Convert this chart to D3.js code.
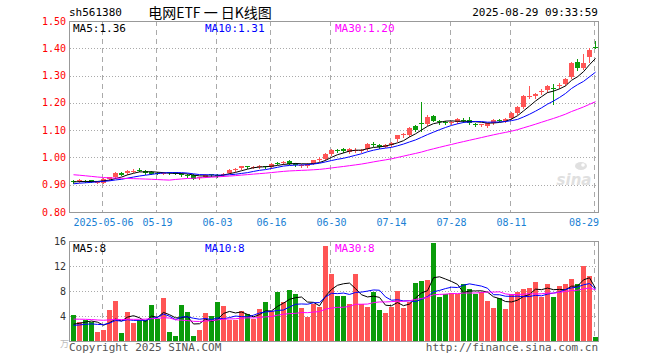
<!DOCTYPE html>
<html><head><meta charset="utf-8">
<script src="https://cdn.jsdelivr.net/npm/d3@7/dist/d3.min.js"></script>
<style>body{margin:0;background:#fff}svg{display:block}</style>
</head><body><svg id="c" width="660" height="360"></svg>
<script>
// ---------- data ----------
const dates = ["04-24","04-25","04-28","04-29","04-30",
"05-06","05-07","05-08","05-09","05-12","05-13","05-14","05-15","05-16","05-19","05-20","05-21","05-22","05-23","05-26","05-27","05-28","05-29","05-30",
"06-03","06-04","06-05","06-06","06-09","06-10","06-11","06-12","06-13","06-16","06-17","06-18","06-19","06-20","06-23","06-24","06-25","06-26","06-27","06-30",
"07-01","07-02","07-03","07-04","07-07","07-08","07-09","07-10","07-11","07-14","07-15","07-16","07-17","07-18","07-21","07-22","07-23","07-24","07-25","07-28","07-29","07-30","07-31",
"08-01","08-04","08-05","08-06","08-07","08-08","08-11","08-12","08-13","08-14","08-15","08-18","08-19","08-20","08-21","08-22","08-25","08-26","08-27","08-28","08-29"];
const openP = [0.913,0.913,0.914,0.916,0.910,0.907,0.921,0.927,0.944,0.943,0.950,0.955,0.952,0.947,0.944,0.941,0.945,0.946,0.939,0.937,0.937,0.925,0.930,0.938,0.937,0.935,0.944,0.955,0.960,0.967,0.963,0.965,0.968,0.965,0.980,0.979,0.987,0.977,0.970,0.968,0.977,0.992,0.993,1.012,1.027,1.030,1.020,1.026,1.026,1.030,1.050,1.045,1.040,1.044,1.068,1.082,1.082,1.116,1.126,1.122,1.151,1.134,1.129,1.127,1.130,1.139,1.136,1.122,1.118,1.114,1.126,1.139,1.132,1.144,1.163,1.186,1.222,1.224,1.238,1.246,1.256,1.262,1.270,1.295,1.348,1.329,1.369,1.405];
const highP = [0.916,0.920,0.917,0.918,0.914,0.924,0.930,0.945,0.947,0.953,0.957,0.961,0.954,0.949,0.946,0.947,0.948,0.948,0.942,0.940,0.938,0.930,0.940,0.941,0.939,0.942,0.958,0.963,0.970,0.970,0.969,0.971,0.970,0.979,0.984,0.988,0.990,0.980,0.975,0.978,0.992,1.000,1.016,1.030,1.032,1.033,1.034,1.033,1.030,1.052,1.055,1.048,1.048,1.056,1.084,1.090,1.112,1.120,1.204,1.156,1.156,1.138,1.132,1.133,1.144,1.144,1.148,1.126,1.124,1.128,1.141,1.142,1.144,1.166,1.188,1.228,1.263,1.236,1.252,1.266,1.268,1.272,1.292,1.350,1.362,1.378,1.400,1.428];
const lowP = [0.908,0.911,0.909,0.910,0.906,0.905,0.918,0.925,0.934,0.941,0.946,0.950,0.940,0.939,0.939,0.939,0.940,0.939,0.933,0.930,0.920,0.920,0.928,0.932,0.930,0.932,0.942,0.952,0.958,0.960,0.961,0.962,0.962,0.963,0.975,0.977,0.975,0.970,0.965,0.966,0.975,0.988,0.990,1.010,1.020,1.020,1.018,1.020,1.020,1.028,1.042,1.036,1.038,1.042,1.062,1.076,1.078,1.098,1.096,1.120,1.132,1.124,1.121,1.124,1.126,1.130,1.123,1.116,1.114,1.111,1.124,1.132,1.130,1.141,1.158,1.181,1.216,1.218,1.234,1.241,1.197,1.255,1.265,1.292,1.322,1.325,1.350,1.400];
const closeP = [0.910,0.916,0.912,0.911,0.911,0.922,0.928,0.942,0.937,0.951,0.951,0.954,0.942,0.941,0.941,0.943,0.943,0.940,0.937,0.935,0.922,0.928,0.937,0.936,0.935,0.940,0.955,0.959,0.967,0.964,0.966,0.968,0.964,0.977,0.978,0.985,0.977,0.973,0.971,0.976,0.990,0.996,1.013,1.027,1.024,1.022,1.031,1.028,1.028,1.050,1.046,1.040,1.045,1.054,1.082,1.086,1.108,1.102,1.124,1.150,1.135,1.130,1.126,1.129,1.142,1.136,1.126,1.120,1.121,1.126,1.138,1.136,1.141,1.163,1.186,1.226,1.225,1.233,1.243,1.261,1.253,1.266,1.287,1.346,1.326,1.346,1.394,1.402];
const volume = [4.16,3.1,3.3,3.0,1.5,1.76,4.96,6.4,1.33,4.64,2.93,3.3,3.3,5.76,3.6,6.88,1.5,0.8,5.76,4.7,0.85,1.7,4.5,4.0,6.24,5.6,3.3,3.3,4.8,4.27,3.6,5.17,6.24,4.8,7.84,6.24,8.2,7.57,5.33,3.84,5.97,5.44,15.2,10.77,7.2,7.2,5.97,10.77,5.87,5.44,7.84,4.96,4.53,5.44,8.0,5.33,6.24,9.28,9.6,9.8,15.7,7.0,7.47,7.68,7.47,9.07,8.37,7.47,7.79,6.4,5.33,6.93,5.12,7.47,7.79,8.32,8.53,9.39,7.04,9.07,7.04,8.75,9.07,9.9,9.17,12.0,10.45,0.64];
// closes / volumes of the 29 sessions before the first shown day (for moving averages)
const prevClose = [0.968,0.975,0.978,0.980,0.975,0.970,0.962,0.965,0.968,0.970,0.972,0.968,0.965,0.972,0.975,0.970,0.870,0.880,0.885,0.895,0.893,0.897,0.895,0.893,0.905,0.908,0.910,0.912,0.910];
const prevVolume = [3.5,3.8,4.2,3.6,3.2,3.0,3.4,3.1,2.9,3.3,3.0,2.8,3.2,3.0,2.9,3.1,9.0,8.0,6.5,4.5,2.5,2.2,2.4,2.3,2.2,2.4,2.3,2.2,2.4];
const priceTicks = [0.80,0.90,1.00,1.10,1.20,1.30,1.40,1.50];
const volTicks = [4,8,12,16];
const tickDates = ["05-06","05-19","06-03","06-16","06-30","07-14","07-28","08-11","08-29"];
const tickLabels = ["2025-05-06","05-19","06-03","06-16","06-30","07-14","07-28","08-11","08-29"];
const maPeriods = [5,10,30];
const maColors = ["#000000","#0000ff","#ff00ff"];

// ---------- drawing ----------
const svg = d3.select("#c");
const RED = "#ff5555", GREEN = "#0a9c0a", GRID = "#aaaaaa", FRAME = "#999999";
const MONO = "'DejaVu Sans Mono', 'Liberation Mono', monospace";
const L = 69, R = 599;
const P = {top:21, bottom:212}, V = {top:241, bottom:341};
const idx = d3.range(dates.length);
const x = d3.scaleBand().domain(idx).range([L, R]).padding(0.18);
const cx = i => Math.round(x(i) + x.bandwidth()/2) + 0.5;
const yP = d3.scaleLinear().domain([0.80,1.50]).range([P.bottom, P.top]);
const yV = d3.scaleLinear().domain([0,16]).range([V.bottom, V.top]);

svg.append("rect").attr("width",660).attr("height",360).attr("fill","#fff");

function ma(all, nPrev, n){
  return idx.map(i => d3.mean(all.slice(i+nPrev-n+1, i+nPrev+1)));
}
const allC = prevClose.concat(closeP), allV = prevVolume.concat(volume);
const maP = maPeriods.map(n => ma(allC, prevClose.length, n));
const maV = maPeriods.map(n => ma(allV, prevVolume.length, n));

// grids
const gx = tickDates.map(d => cx(dates.indexOf(d)));
function grid(top, bottom, y, ticks){
  const g = svg.append("g").attr("shape-rendering","crispEdges");
  g.selectAll("line.h").data(ticks).join("line")
    .attr("x1",L+0.5).attr("x2",R-0.5)
    .attr("y1",d=>Math.round(y(d))+0.5).attr("y2",d=>Math.round(y(d))+0.5)
    .attr("stroke",GRID).attr("stroke-dasharray","1,2");
  g.selectAll("line.v").data(gx).join("line")
    .attr("x1",d=>d-1).attr("x2",d=>d-1).attr("y1",top).attr("y2",bottom)
    .attr("stroke",GRID).attr("stroke-dasharray","5,4");
}
grid(P.top, P.bottom, yP, priceTicks.slice(1,-1));
grid(V.top, V.bottom, yV, volTicks.slice(0,-1));

// watermark (sina logo)
const wm = svg.append("g").attr("fill","#e0e0e0");
wm.append("text").attr("x",574).attr("y",185).attr("text-anchor","middle")
  .attr("font-family","'DejaVu Sans', sans-serif").attr("font-size",15).attr("font-weight","bold")
  .attr("font-style","italic").text("sina");
wm.append("ellipse").attr("cx",581).attr("cy",166).attr("rx",6).attr("ry",4);
wm.append("circle").attr("cx",583).attr("cy",165).attr("r",1.8).attr("fill","#fff");

// candles
const cg = svg.append("g").attr("shape-rendering","crispEdges");
idx.forEach(i => {
  const up = closeP[i] >= openP[i];
  const col = up ? RED : GREEN;
  const c = cx(i);
  cg.append("line").attr("x1",c).attr("x2",c)
    .attr("y1",Math.round(yP(highP[i]))).attr("y2",Math.round(yP(lowP[i]))+1)
    .attr("stroke",col);
  const yt = Math.round(yP(Math.max(openP[i],closeP[i])));
  const yb = Math.round(yP(Math.min(openP[i],closeP[i])));
  cg.append("rect").attr("x",c-2.5).attr("width",5)
    .attr("y",yt).attr("height",Math.max(1,yb-yt))
    .attr("fill",col);
});

// volume bars
svg.append("g").attr("shape-rendering","crispEdges")
  .selectAll("rect").data(idx).join("rect")
  .attr("x",i=>cx(i)-2.5).attr("width",5)
  .attr("y",i=>Math.round(yV(volume[i]))).attr("height",i=>V.bottom-Math.round(yV(volume[i])))
  .attr("fill",i=> closeP[i]>=openP[i] ? RED : GREEN);

// moving average lines
maP.forEach((m,k)=>{
  svg.append("path").datum(idx)
    .attr("d", d3.line().x(i=>cx(i)).y(i=>yP(m[i])))
    .attr("fill","none").attr("stroke",maColors[k]).attr("stroke-width",1);
});
maV.forEach((m,k)=>{
  svg.append("path").datum(idx)
    .attr("d", d3.line().x(i=>cx(i)).y(i=>yV(m[i])))
    .attr("fill","none").attr("stroke",maColors[k]).attr("stroke-width",1);
});

// frames
[[P.top,P.bottom],[V.top,V.bottom]].forEach(([t,b])=>{
  svg.append("rect").attr("x",L+0.5).attr("y",t+0.5).attr("width",R-L-1).attr("height",b-t)
    .attr("fill","none").attr("stroke",FRAME).attr("shape-rendering","crispEdges");
});

// axis labels
const txt = (xx,yy,s,opt={}) => svg.append("text").attr("x",xx).attr("y",yy)
  .attr("font-family",opt.font||MONO).attr("font-size",opt.size||10)
  .attr("fill",opt.fill||"#000").attr("text-anchor",opt.anchor||"start")
  .attr("dominant-baseline","central").text(s);

priceTicks.forEach(t => txt(66, yP(t), t.toFixed(2), {anchor:"end", fill:"#ff0000"}));
volTicks.forEach(t => txt(66, yV(t), String(t), {anchor:"end", fill:"#333"}));
txt(60, 343, "万", {font:"'Noto Sans CJK SC', sans-serif", size:9, fill:"#bbbbbb"});
tickDates.forEach((d,k)=>{
  const last = k === tickDates.length-1;
  txt(last ? R : gx[k], 222, tickLabels[k], {anchor: last ? "end" : "middle", fill:"#1a7fd4"});
});

// header
txt(69, 12, "sh561380", {size:11});
txt(210, 12, "电网ETF 一 日K线图", {font:"'Noto Sans CJK SC', sans-serif", size:14, anchor:"middle"});
txt(598, 12, "2025-08-29 09:33:59", {size:11, anchor:"end"});

// MA legends
const mx = [73, 205, 335];
maPeriods.forEach((n,k)=>{
  txt(mx[k], 28, "MA"+n+":"+maP[k][idx.length-1].toFixed(2), {fill:maColors[k], size:11});
  txt(mx[k], 248, "MA"+n+":"+Math.round(maV[k][idx.length-1]), {fill:maColors[k], size:11});
});

// footer
txt(69, 347, "Copyright 2025 SINA.COM", {fill:"#555", size:11});
txt(598, 347, "http://finance.sina.com.cn", {fill:"#555", size:11, anchor:"end"});
</script></body></html>
